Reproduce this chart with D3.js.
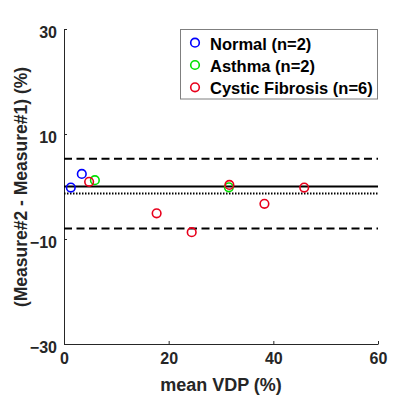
<!DOCTYPE html>
<html><head><meta charset="utf-8">
<script src="https://cdn.jsdelivr.net/npm/d3@7"></script>
<style>body{margin:0;background:#fff;} text{font-family:"Liberation Sans",Arial,sans-serif;font-weight:bold;}</style>
</head><body><svg id="c" width="400" height="397"></svg>
<script>
const groups = ["Normal (n=2)", "Asthma (n=2)", "Cystic Fibrosis (n=6)"];
const colors = ["#0000ff", "#00e000", "#e8001c"];
const normalX = [1.3, 3.4];
const normalY = [-0.2, 2.4];
const asthmaX = [5.9, 31.5];
const asthmaY = [1.2, -0.15];
const cfX = [4.8, 17.7, 24.4, 31.6, 38.3, 45.9];
const cfY = [0.9, -5.1, -8.7, 0.3, -3.3, -0.2];
const meanDiff = -1.35;
const upperLoA = 5.3;
const lowerLoA = -8.0;
const zeroLine = 0;
const xTicks = [0, 20, 40, 60];
const yTicks = [-30, -10, 10, 30];

const svg = d3.select("#c");
const x = d3.scaleLinear().domain([0, 60]).range([64, 378]);
const y = d3.scaleLinear().domain([-30, 30]).range([344, 29]);
const axisCol = "#262626";

// axes
const gx = svg.append("g").attr("transform", `translate(0,${y(-30)})`)
  .call(d3.axisBottom(x).tickValues(xTicks).tickSizeInner(-3).tickSizeOuter(0).tickPadding(9));
const gy = svg.append("g").attr("transform", `translate(${x(0)},0)`)
  .call(d3.axisLeft(y).tickValues(yTicks).tickSizeInner(-3).tickSizeOuter(0).tickPadding(7));
[gx, gy].forEach(g => {
  g.select(".domain").attr("stroke", axisCol).attr("stroke-width", 1);
  g.selectAll(".tick line").attr("stroke", axisCol);
  g.selectAll("text").attr("font-size", 16).attr("fill", axisCol).style("font-weight", "bold");
});
gy.selectAll("text").attr("dy", "0.55em");

// reference lines
const lines = [
  {v: upperLoA, dash: "8,4.5", w: 2},
  {v: lowerLoA, dash: "8,4.5", w: 2},
  {v: zeroLine, dash: null, w: 2.2},
  {v: meanDiff, dash: "1.5,1.5", w: 2}
];
lines.forEach(l => {
  const ln = svg.append("line").attr("x1", x(0)).attr("x2", x(60))
    .attr("y1", y(l.v)).attr("y2", y(l.v)).attr("stroke", "#000").attr("stroke-width", l.w);
  if (l.dash) ln.attr("stroke-dasharray", l.dash);
});

// points
const series = [
  {xs: normalX, ys: normalY, c: colors[0]},
  {xs: asthmaX, ys: asthmaY, c: colors[1]},
  {xs: cfX, ys: cfY, c: colors[2]}
];
series.forEach(s => {
  svg.append("g").selectAll("circle").data(s.xs.map((v, i) => [v, s.ys[i]])).join("circle")
    .attr("cx", d => x(d[0])).attr("cy", d => y(d[1])).attr("r", 4.3)
    .attr("fill", "none").attr("stroke", s.c).attr("stroke-width", 1.6);
});

// legend
const lg = svg.append("g");
lg.append("rect").attr("x", 180.5).attr("y", 29.5).attr("width", 197).attr("height", 69.5)
  .attr("fill", "#fff").attr("stroke", "#7f7f7f").attr("stroke-width", 1);
groups.forEach((g, i) => {
  const yy = 42.7 + i * 22.3;
  lg.append("circle").attr("cx", 195).attr("cy", yy).attr("r", 4.3)
    .attr("fill", "none").attr("stroke", colors[i]).attr("stroke-width", 1.6);
  lg.append("text").attr("x", 210).attr("y", yy + 7).attr("font-size", 16.5).attr("fill", "#000").text(g);
});

// axis labels
svg.append("text").attr("x", x(30)).attr("y", 391).attr("text-anchor", "middle")
  .attr("font-size", 18).attr("fill", axisCol).text("mean VDP (%)");
svg.append("text").attr("transform", `translate(27,187) rotate(-90)`).attr("text-anchor", "middle")
  .attr("font-size", 17.5).attr("fill", axisCol).text("(Measure#2 - Measure#1) (%)");
</script></body></html>
